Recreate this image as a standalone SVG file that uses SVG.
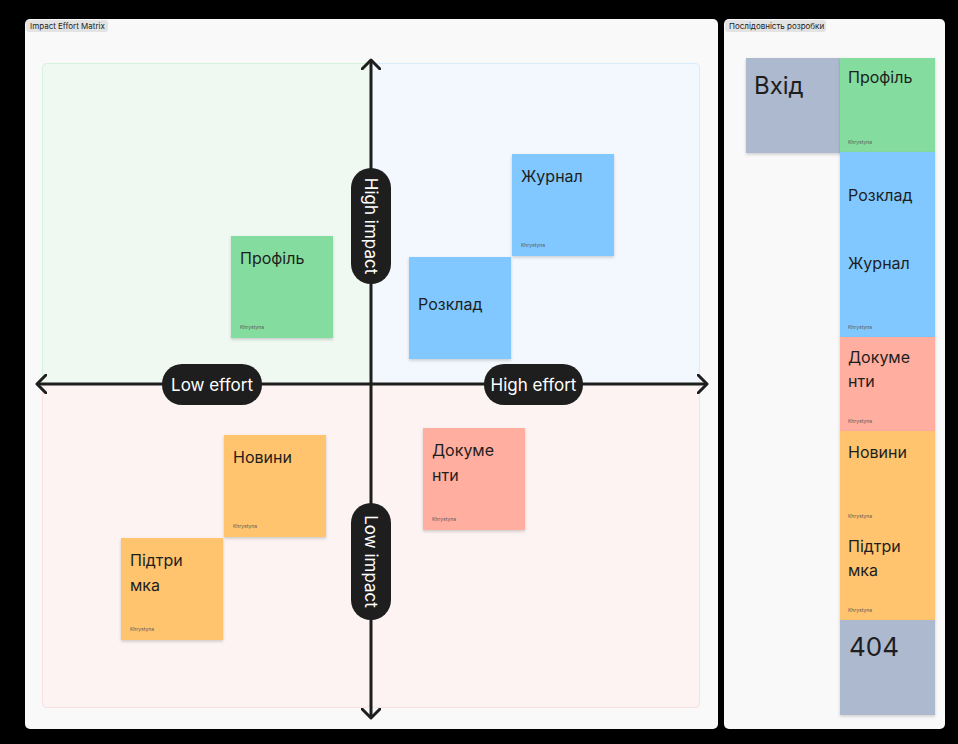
<svg xmlns="http://www.w3.org/2000/svg" width="958" height="744" viewBox="0 0 958 744">
  <defs>
    <filter id="shadow" x="-10%" y="-10%" width="120%" height="125%">
      <feDropShadow dx="0" dy="1.5" stdDeviation="1.5" flood-color="#000" flood-opacity="0.18"/>
    </filter>
    <marker id="chev" viewBox="0 0 12 20" refX="10" refY="10" markerWidth="12" markerHeight="20" markerUnits="userSpaceOnUse" orient="auto-start-reverse">
      <path d="M1,1 L10,10 L1,19" fill="none" stroke="#1e1e1e" stroke-width="3" stroke-linecap="round" stroke-linejoin="round"/>
    </marker>
    <style>
      text { font-family: Inter, "Noto Sans", "Liberation Sans", sans-serif; }
      .frame { fill: #f9f9f9; }
      .tag { fill: #e3e3e3; }
      .tagtxt { font-size: 8px; fill: #1e1e1e; }
      .note { filter: url(#shadow); }
      .green { fill: #85dc9f; }
      .blue { fill: #80c8ff; }
      .pink { fill: #ffae9f; }
      .orange { fill: #ffc46d; }
      .grey { fill: #adb9cf; }
      .t { font-size: 16px; fill: #1e1e1e; }
      .big { font-size: 24px; fill: #1e1e1e; }
      .who { font-size: 5px; fill: #5a5a5a; }
      .pill { fill: #1e1e1e; }
      .pilltxt { font-size: 17px; fill: #ffffff; text-anchor: middle; dominant-baseline: central; }
      .axis { stroke: #1e1e1e; stroke-width: 3; fill: none; }
    </style>
  </defs>

  <rect width="958" height="744" fill="#000"/>

  <!-- Matrix frame -->
  <g id="frame-matrix">
    <rect class="frame" x="25" y="19" width="693" height="710" rx="5"/>
    <rect class="tag" x="26" y="20" width="82" height="12" rx="3"/>
    <text class="tagtxt" x="30" y="29">Impact Effort Matrix</text>
  </g>

  <!-- Quadrants -->
  <g id="quadrants">
    <rect x="42.5" y="63.5" width="328" height="321" rx="4" fill="#eff8f1" stroke="#d5f2dd"/>
    <rect x="370.5" y="63.5" width="329" height="321" rx="4" fill="#f2f8fd" stroke="#d9ecfa"/>
    <rect x="42.5" y="384.5" width="328" height="323" rx="4" fill="#fcf3f2" stroke="#f6e1de"/>
    <rect x="370.5" y="384.5" width="329" height="323" rx="4" fill="#fcf3f2" stroke="#f6e1de"/>
  </g>

  <!-- Axes -->
  <g id="connectors">
    <line class="axis" x1="37" y1="384" x2="707" y2="384" marker-start="url(#chev)" marker-end="url(#chev)"/>
    <line class="axis" x1="371" y1="60" x2="371" y2="718" marker-start="url(#chev)" marker-end="url(#chev)"/>
  </g>

  <!-- Axis labels -->
  <g id="label-high-impact">
    <rect class="pill" x="351" y="168" width="40" height="116" rx="20"/>
    <text class="pilltxt" transform="translate(371 226) rotate(90)">High impact</text>
  </g>
  <g id="label-low-impact">
    <rect class="pill" x="351" y="503" width="40" height="117" rx="20"/>
    <text class="pilltxt" transform="translate(371 561.5) rotate(90)">Low impact</text>
  </g>
  <g id="label-low-effort">
    <rect class="pill" x="162" y="364" width="100" height="41" rx="20"/>
    <text class="pilltxt" x="212" y="384.5">Low effort</text>
  </g>
  <g id="label-high-effort">
    <rect class="pill" x="484" y="364" width="99" height="41" rx="20"/>
    <text class="pilltxt" x="533.5" y="384.5">High effort</text>
  </g>

  <!-- Matrix notes -->
  <g id="note-profile">
    <rect class="note green" x="231" y="236" width="102" height="102"/>
    <text class="t" x="240" y="264">Профіль</text>
    <text class="who" x="240" y="329">Khrystyna</text>
  </g>
  <g id="note-journal">
    <rect class="note blue" x="512" y="154" width="102" height="102"/>
    <text class="t" x="521" y="182">Журнал</text>
    <text class="who" x="521" y="247">Khrystyna</text>
  </g>
  <g id="note-schedule">
    <rect class="note blue" x="409" y="257" width="102" height="102"/>
    <text class="t" x="418" y="310">Розклад</text>
  </g>
  <g id="note-documents">
    <rect class="note pink" x="423" y="428" width="102" height="102"/>
    <text class="t" x="432" y="456">Докуме</text>
    <text class="t" x="432" y="481">нти</text>
    <text class="who" x="432" y="521">Khrystyna</text>
  </g>
  <g id="note-news">
    <rect class="note orange" x="224" y="435" width="102" height="102"/>
    <text class="t" x="233" y="463">Новини</text>
    <text class="who" x="233" y="528">Khrystyna</text>
  </g>
  <g id="note-support">
    <rect class="note orange" x="121" y="538" width="102" height="102"/>
    <text class="t" x="130" y="566">Підтри</text>
    <text class="t" x="130" y="591">мка</text>
    <text class="who" x="130" y="631">Khrystyna</text>
  </g>

  <!-- Sequence frame -->
  <g id="frame-sequence">
    <rect class="frame" x="724" y="19" width="221" height="710" rx="5"/>
    <rect class="tag" x="725" y="20" width="101" height="12" rx="3"/>
    <text class="tagtxt" x="729" y="29">Послідовність розробки</text>
  </g>

  <g id="seq-login">
    <rect class="note grey" x="746" y="58" width="95" height="95"/>
    <text class="big" x="754" y="94">Вхід</text>
  </g>
  <g id="seq-profile">
    <rect class="note green" x="840" y="58" width="95" height="95"/>
    <text class="t" x="848" y="83">Профіль</text>
    <text class="who" x="848" y="144">Khrystyna</text>
  </g>
  <g id="seq-schedule-journal">
    <rect class="note blue" x="840" y="152" width="95" height="186"/>
    <text class="t" x="848" y="201">Розклад</text>
    <text class="t" x="848" y="269">Журнал</text>
    <text class="who" x="848" y="329">Khrystyna</text>
  </g>
  <g id="seq-documents">
    <rect class="note pink" x="840" y="337" width="95" height="95"/>
    <text class="t" x="848" y="363">Докуме</text>
    <text class="t" x="848" y="387">нти</text>
    <text class="who" x="848" y="423">Khrystyna</text>
  </g>
  <g id="seq-news-support">
    <rect class="note orange" x="840" y="431" width="95" height="190"/>
    <text class="t" x="848" y="458">Новини</text>
    <text class="who" x="848" y="518">Khrystyna</text>
    <text class="t" x="848" y="552">Підтри</text>
    <text class="t" x="848" y="576">мка</text>
    <text class="who" x="848" y="612">Khrystyna</text>
  </g>
  <g id="seq-404">
    <rect class="note grey" x="840" y="620" width="95" height="95"/>
    <text class="big" x="849" y="656" style="font-size:26px">404</text>
  </g>
</svg>
